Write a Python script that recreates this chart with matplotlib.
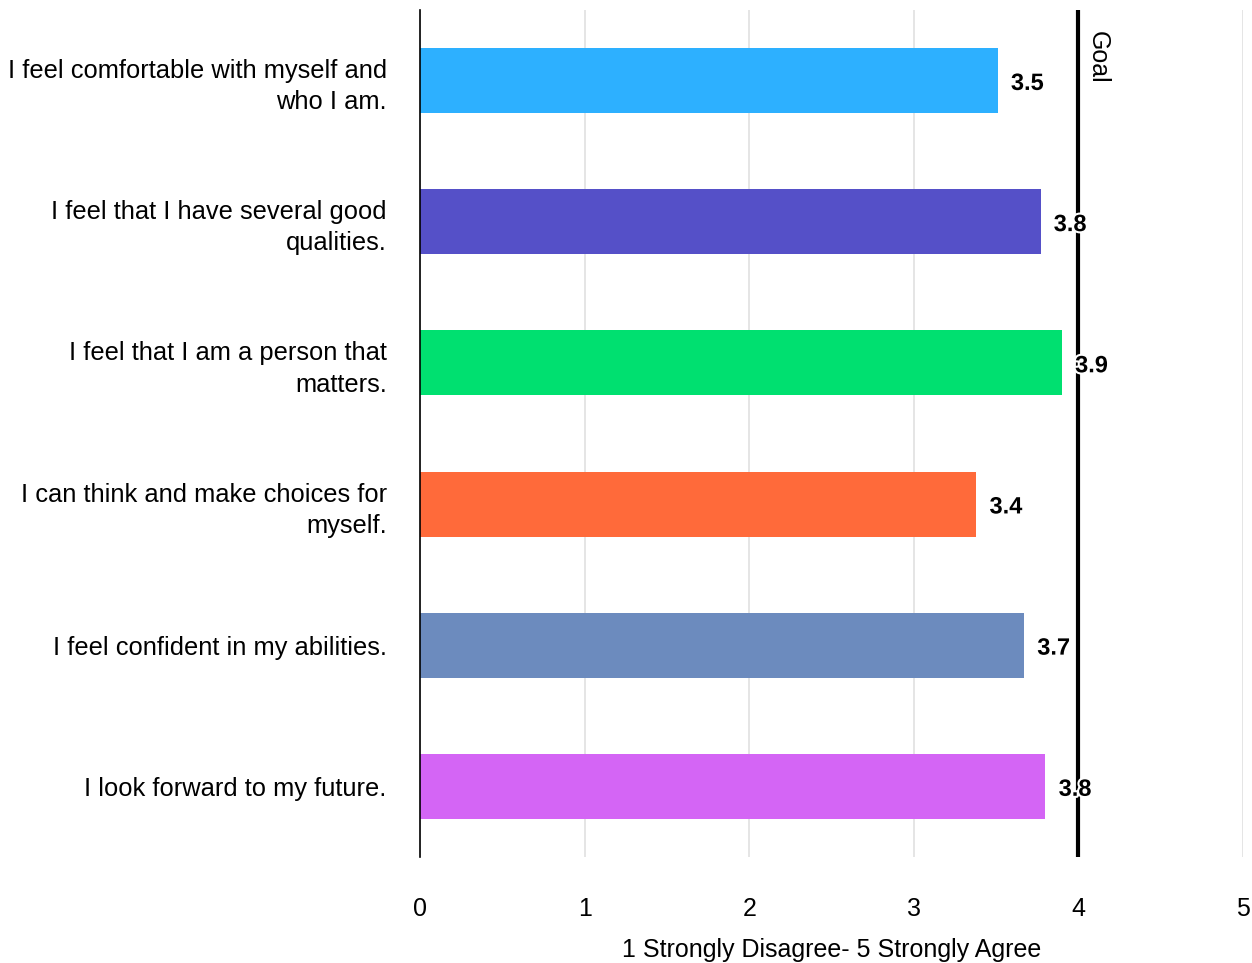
import matplotlib.pyplot as plt
import matplotlib.patheffects as pe

plt.rcParams['font.family'] = ['Liberation Sans', 'DejaVu Sans']

statements = [
    "I feel comfortable with myself and\nwho I am.",
    "I feel that I have several good\nqualities.",
    "I feel that I am a person that\nmatters.",
    "I can think and make choices for\nmyself.",
    "I feel confident in my abilities.",
    "I look forward to my future.",
]
scores = [3.51, 3.77, 3.90, 3.38, 3.67, 3.80]
score_labels = ["3.5", "3.8", "3.9", "3.4", "3.7", "3.8"]
colors = ["#2DB0FF", "#5550C8", "#00E070", "#FF6A3A", "#6C8BBE", "#D465F5"]
goal = 4
xticks = [0, 1, 2, 3, 4, 5]

fig = plt.figure(figsize=(12.52, 9.63), dpi=100)
ax = fig.add_axes([0.3355, 0.110, 0.6573, 0.8796])

ypos = list(range(len(statements)))
ax.barh(ypos, scores, height=0.46, color=colors, zorder=2)
ax.set_ylim(len(statements) - 0.5, -0.5)
ax.set_xlim(0, 5)

for y, s, lab in zip(ypos, scores, score_labels):
    ax.text(s + 0.08, y + 0.02, lab, va='center', ha='left', fontsize=17,
            fontweight='bold', zorder=4,
            path_effects=[pe.withStroke(linewidth=3, foreground='white')])

# goal line
ax.axvline(goal, color='black', lw=3, zorder=3)
ax.text(goal + 0.045, -0.35, "Goal", rotation=-90, va='top', ha='left',
        fontsize=18)

ax.set_xticks(xticks)
ax.set_xticklabels([str(t) for t in xticks], fontsize=18)
ax.set_yticks(ypos)
ax.set_yticklabels(statements, fontsize=18.4, linespacing=1.38)
ax.tick_params(axis='both', length=0)
ax.tick_params(axis='x', pad=29)
ax.tick_params(axis='y', pad=24)
ax.grid(axis='x', color='#E0E0E0', lw=1.2, zorder=0)
ax.set_xlabel("1 Strongly Disagree- 5 Strongly Agree", fontsize=18, labelpad=12)

for side in ['top', 'right', 'bottom']:
    ax.spines[side].set_visible(False)
ax.spines['left'].set_color('black')
ax.spines['left'].set_linewidth(1.2)
ax.spines['left'].set_zorder(3)

fig.savefig("out.png", dpi=100)
